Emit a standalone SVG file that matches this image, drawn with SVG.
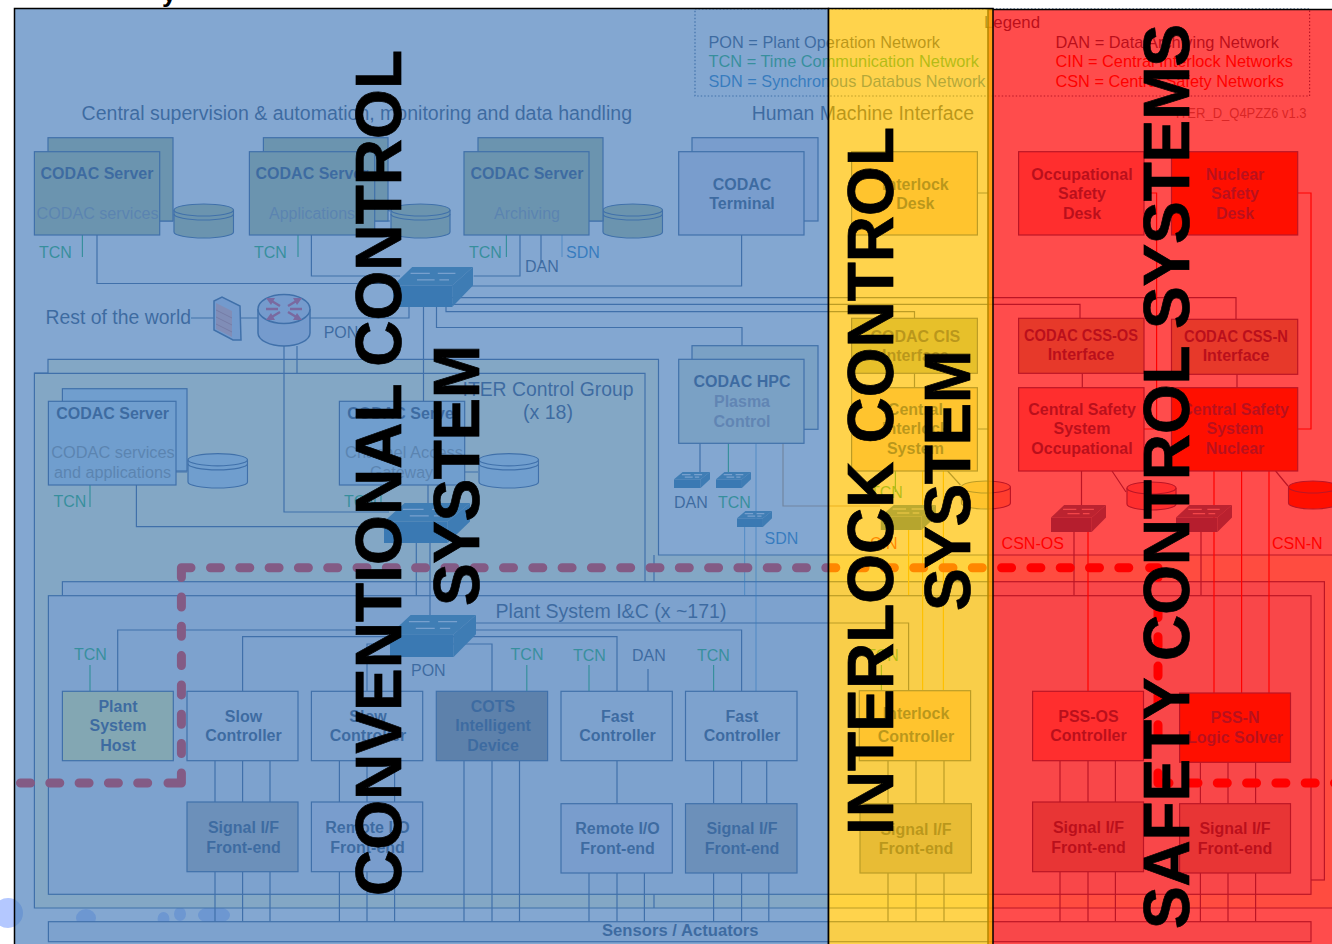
<svg xmlns="http://www.w3.org/2000/svg" width="1332" height="944" viewBox="0 0 1332 944">
<style>
text{font-family:"Liberation Sans",Arial,sans-serif;fill:#17375E}
.m{text-anchor:middle}
.b{font-weight:bold;font-size:16px}
.r{font-size:20px}
.n{font-size:16px}
.f{fill:#7A8A92}
.fb{font-weight:bold;font-size:16px;fill:#8C8C9A;text-anchor:middle}
.tcn{fill:#00B050;font-size:16px}
.sdn{fill:#0070C0;font-size:16px}
.red{fill:#FF0000;font-size:16px}
.box{stroke:#1F497D;stroke-width:1.2}
.g{fill:#AFC08C}
.s{fill:#BEE1F5}
.t{fill:#DDDDF0}
.w{fill:#EBEEF5}
.pk{fill:#FF9999}
.nu{fill:#FF3300}
.or{fill:#FFCC99}
.gr{fill:#B2B2B2}
.rio{fill:#DDDDF0}
.c path{fill:none;stroke:#1F497D;stroke-width:1.2}
.c .lt{stroke:#00B050}
.c .ls{stroke:#0070C0;stroke-opacity:.55}
.c .lr{stroke:#FF0000}
.c .lo{stroke:#C09060}
.c .ly{stroke:#FFC000}
.title{font-weight:bold;font-size:64px;fill:#000;stroke:#000;stroke-width:.7}
.bd path{fill:none;stroke:#FF0000;stroke-width:9;stroke-linecap:round;stroke-linejoin:round}
.bd .d{stroke-dasharray:10 19.3}
</style>
<defs>
<symbol id="sw" viewBox="0 0 100 50" preserveAspectRatio="none">
<polygon points="0,23 74,23 74,50 0,50" fill="#0A6499"/>
<polygon points="0,23 24,0 100,0 74,23" fill="#2175A0"/>
<polygon points="74,23 100,0 100,23 74,50" fill="#1A6E9E"/>
<path d="M30,16H52M22,8H46M56,8H78M58,16H70" stroke="#D8E8F4" stroke-width="1.2" fill="none" vector-effect="non-scaling-stroke"/>
</symbol>
<symbol id="cy" viewBox="0 0 62 36" preserveAspectRatio="none">
<path d="M1,7V29A30,6 0 0 0 61,29V7" stroke="#1F497D" stroke-width="1.2" vector-effect="non-scaling-stroke"/>
<ellipse cx="31" cy="7" rx="30" ry="6" stroke="#1F497D" stroke-width="1.2" vector-effect="non-scaling-stroke"/>
<path d="M1,11A30,6 0 0 0 61,11" fill="none" stroke="#1F497D" stroke-width="1.2" vector-effect="non-scaling-stroke"/>
</symbol>
<symbol id="cz" viewBox="0 0 52 30" preserveAspectRatio="none">
<path d="M1,7V23A25,6 0 0 0 51,23V7" stroke="#1F497D" stroke-width="1.2" vector-effect="non-scaling-stroke"/>
<ellipse cx="26" cy="7" rx="25" ry="6" stroke="#1F497D" stroke-width="1.2" vector-effect="non-scaling-stroke"/>
</symbol>
</defs>
<rect width="1332" height="944" fill="#FFFFFF"/>
<text x="162" y="2" style="font-weight:bold;font-size:26px;fill:#000">y</text>
<g id="backdrop">
<ellipse cx="8" cy="913" rx="15" ry="15" fill="#B4C8FF"/>
<ellipse cx="86" cy="918" rx="10" ry="9" fill="#B4C8FF"/>
<ellipse cx="163.500" cy="919" rx="6" ry="7" fill="#B4C8FF"/>
<ellipse cx="180" cy="914" rx="6" ry="7" fill="#B4C8FF"/>
<ellipse cx="214" cy="915" rx="16" ry="9" fill="#B4C8FF"/>
</g>
<g id="iter-control-group">
<path d="M48,373V359.300H658.500V555H1345V908H34.400V373Z" fill="#FFFFD8" stroke="#1F497D" stroke-width="1.200"/>
<path d="M34.400,373.300H645V582M654,555V908" fill="none" stroke="#1F497D" stroke-width="1.200"/>
<text class="r m" x="548" y="396" textLength="171" lengthAdjust="spacingAndGlyphs">ITER Control Group</text>
<text class="r m" x="548" y="419" textLength="50" lengthAdjust="spacingAndGlyphs">(x 18)</text>
</g>
<g id="plant-system-panel">
<rect class="box w" x="62.400" y="581.700" width="1262" height="298.300"/>
<rect class="box w" x="48.400" y="595.700" width="1262.600" height="298.600"/>
<text class="r m" x="611" y="618" textLength="231" lengthAdjust="spacingAndGlyphs">Plant System I&amp;C (x ~171)</text>
</g>
<g id="legend">
<rect x="695" y="9" width="614.600" height="87" fill="none" stroke="#1F497D" stroke-width="1.200" stroke-dasharray="1.500 2"/>
<text x="984" y="28" class="n" textLength="56" lengthAdjust="spacingAndGlyphs">Legend</text>
<text x="708.500" y="48" class="n" style="font-size:17px" textLength="231.500" lengthAdjust="spacingAndGlyphs">PON = Plant Operation Network</text>
<text x="708.500" y="67" class="tcn" style="font-size:17px" textLength="270.500" lengthAdjust="spacingAndGlyphs">TCN = Time Communication Network</text>
<text x="708.500" y="87" class="sdn" style="font-size:17px" textLength="277" lengthAdjust="spacingAndGlyphs">SDN = Synchronous Databus Network</text>
<text x="1055.500" y="48" class="n" style="font-size:17px" textLength="223.500" lengthAdjust="spacingAndGlyphs">DAN = Data Archiving Network</text>
<text x="1055.500" y="67" class="red" style="font-size:17px" textLength="237.500" lengthAdjust="spacingAndGlyphs">CIN = Central Interlock Networks</text>
<text x="1055.500" y="87" class="red" style="font-size:17px" textLength="228.500" lengthAdjust="spacingAndGlyphs">CSN = Central Safety Networks</text>
</g>
<g id="headings">
<text x="81.600" y="120" class="r" textLength="550.400" lengthAdjust="spacingAndGlyphs">Central supervision &amp; automation, monitoring and data handling</text>
<text x="751.800" y="120" class="r" textLength="222.200" lengthAdjust="spacingAndGlyphs">Human Machine Interface</text>
<text x="1175.800" y="118" style="font-size:14px;fill:#808080" textLength="130.800" lengthAdjust="spacingAndGlyphs">ITER_D_Q4PZZ6 v1.3</text>
<text x="45.500" y="324" class="r" textLength="145.500" lengthAdjust="spacingAndGlyphs">Rest of the world</text>
<text x="323.700" y="338" class="n">PON</text>
<text x="411" y="676" class="n">PON</text>
</g>
<g id="connectors" class="c">
<path d="M97,235V283.500H403M311.400,235V276H400M520,235V276H473.600M741.600,235V286H452M452,297.700H1236V319M452,304.300H1080V318M446,307V311.700H914.500V318M436.500,307V327.500H742V359.300"/>
<path d="M191,318H213.700M241,318H258M310,318H409V307M284,346V512H389M297,346V373.300M423.500,307V401M428,485V503M136.400,485V526.700H389M416.300,543V596M430,543V615"/>
<path d="M159.700,207L173,211M159.700,221H173M374.700,207L390,211M374.700,221H390M589,207L602,211M589,221H602M176,458L187,462M176,472H187M464.700,458L478,462M464.700,472H478"/>
<path d="M541,235V263M117.700,691V630H390M242.600,691V636.700H617V691M367,691V644H492V691M455,630H741.600V691M476,623H908.600V691M648,669V691M700,443.300V472"/>
<path d="M215,760.700V802M242.600,760.700V802M270,760.700V802M215,871.700V921.700M242.600,871.700V921.700M270,871.700V921.700"/>
<path d="M339.400,760.700V802M367,760.700V802M394.600,760.700V802M339.400,871.700V921.700M367,871.700V921.700M394.600,871.700V921.700"/>
<path d="M464,760.700V921.700M492,760.700V921.700M519.500,760.700V921.700"/>
<path d="M617,760.700V803.700M589,873V921.700M617,873V921.700M644.400,873V921.700"/>
<path d="M713.600,760.700V803.700M741.600,760.700V803.700M766.700,760.700V803.700M713.600,873V921.700M741.600,873V921.700M768.800,873V921.700"/>
<path d="M888,760.700V803.700M916,760.700V803.700M944,760.700V803.700M888,873V921.700M916,873V921.700M944,873V921.700"/>
<path d="M1060,760.700V802M1088,760.700V802M1115.400,760.700V802M1060,871.700V921.700M1088,871.700V921.700M1115.400,871.700V921.700"/>
<path d="M1200.400,762.300V803.700M1228,762.300V803.700M1255.600,762.300V803.700M1200.400,873V921.700M1228,873V921.700M1255.600,873V921.700"/>
<path d="M1081.500,471V505M1112,471L1126,492M1074,532V595M1201,532V595M1275.600,471L1288,486M947.600,471L960.400,485M914.500,373.300V387.700M1082.300,373.300V387.700M1237,373.300V387.700"/>
<path d="M977.400,193H988M977.400,429H988"/>
<path class="lr" d="M1144,193H1156.600V429H1144M1297.700,193H1311V429H1297.700M1088,532V691M1214,471V693M1241.600,471V693M1269,471V693"/>
<path class="ly" d="M922.600,471V690M943.400,471V690M908.600,530V595"/>
<path class="lo" d="M783,443.300V506H880"/>
<path class="lt" d="M82.400,235V257M298,235V257M506.400,235V257M90,485V507M381,485V507M90,665V691M526.800,665V691M589,665V691M713.600,665V691M881.400,665V691M895.400,471V492M728.400,443.300V472"/>
<path class="ls" d="M562,235V257M756,443.300V691M744.600,527V595"/>
</g>
<g id="db-top"><use href="#cy" x="173" y="203" width="61.500" height="36" class="g"/><use href="#cy" x="390" y="203" width="61" height="36" class="g"/><use href="#cy" x="602" y="203" width="61.500" height="36" class="g"/></g>
<g id="db-group"><use href="#cy" x="187" y="452.700" width="61.500" height="36.300" class="s"/><use href="#cy" x="478" y="452.700" width="61.500" height="36.300" class="s"/></g>
<g id="db-safety"><use href="#cz" x="960.400" y="480" width="51" height="30" class="or"/><use href="#cz" x="1126" y="481" width="51" height="30" class="pk"/><use href="#cz" x="1287.500" y="480" width="51" height="30" class="nu"/></g>
<g id="server-services"><rect class="box g" x="48" y="137.700" width="125" height="83.300"/><rect class="box g" x="34.400" y="151.700" width="125.300" height="83.300"/><text class="b m" x="97" y="179">CODAC Server</text><text class="n f m" x="97.500" y="219" textLength="122" lengthAdjust="spacingAndGlyphs">CODAC services</text><text class="tcn" x="39" y="258">TCN</text></g>
<g id="server-apps"><rect class="box g" x="263.400" y="137.700" width="124.600" height="83.300"/><rect class="box g" x="249.400" y="151.700" width="125.300" height="83.300"/><text class="b m" x="312" y="179">CODAC Server</text><text class="n f m" x="312" y="219" textLength="86" lengthAdjust="spacingAndGlyphs">Applications</text><text class="tcn" x="254" y="258">TCN</text></g>
<g id="server-arch"><rect class="box g" x="478" y="137.700" width="125" height="83.300"/><rect class="box g" x="464" y="151.700" width="125" height="83.300"/><text class="b m" x="527" y="179">CODAC Server</text><text class="n f m" x="527" y="219" textLength="66" lengthAdjust="spacingAndGlyphs">Archiving</text><text class="tcn" x="469" y="258">TCN</text><text class="n" x="525" y="272">DAN</text><text class="sdn" x="566" y="258">SDN</text></g>
<g id="terminal"><rect class="box t" x="692" y="137.700" width="126" height="83.300"/><rect class="box t" x="678.700" y="151.700" width="125.300" height="83.300"/><text class="b m" x="742" y="189.500">CODAC</text><text class="b m" x="742" y="208.600">Terminal</text></g>
<g id="interlock-desk"><rect class="box or" x="851.600" y="151.700" width="125.800" height="83.300"/><text class="b m" x="915.400" y="189.500">Interlock</text><text class="b m" x="915.400" y="208.600">Desk</text></g>
<g id="occ-desk"><rect class="box pk" x="1018.600" y="151.700" width="125.400" height="83.300"/><text class="b m" x="1082" y="179.500">Occupational</text><text class="b m" x="1082" y="198.700">Safety</text><text class="b m" x="1082" y="218.700">Desk</text></g>
<g id="nuc-desk"><rect class="box nu" x="1171.500" y="151.700" width="126.200" height="83.300"/><text class="b m" x="1235" y="179.500">Nuclear</text><text class="b m" x="1235" y="198.700">Safety</text><text class="b m" x="1235" y="218.700">Desk</text></g>
<g id="cis-if"><rect class="box g" x="851.600" y="318.300" width="125.800" height="55"/><text class="b m" x="915.400" y="341.500">CODAC CIS</text><text class="b m" x="915.400" y="360.500">Interface</text></g>
<g id="css-os-if"><rect class="box g" x="1018.600" y="318.300" width="125.400" height="55"/><text class="b m" x="1081" y="341" textLength="114" lengthAdjust="spacingAndGlyphs">CODAC CSS-OS</text><text class="b m" x="1081" y="360">Interface</text></g>
<g id="css-n-if"><rect class="box g" x="1171.500" y="319.300" width="126.200" height="55"/><text class="b m" x="1236" y="342" textLength="104" lengthAdjust="spacingAndGlyphs">CODAC CSS-N</text><text class="b m" x="1236" y="361">Interface</text></g>
<g id="central-interlock"><rect class="box or" x="851.600" y="387.700" width="125.800" height="83.300"/><text class="b m" x="915.400" y="415">Central</text><text class="b m" x="915.400" y="434">Interlock</text><text class="b m" x="915.400" y="454">System</text></g>
<g id="central-os"><rect class="box pk" x="1018.600" y="387.700" width="125.400" height="83.300"/><text class="b m" x="1082" y="415">Central Safety</text><text class="b m" x="1082" y="434">System</text><text class="b m" x="1082" y="454">Occupational</text></g>
<g id="central-n"><rect class="box nu" x="1171.500" y="387.700" width="126.200" height="83.300"/><text class="b m" x="1235" y="415">Central Safety</text><text class="b m" x="1235" y="434">System</text><text class="b m" x="1235" y="454">Nuclear</text></g>
<g id="hpc"><rect class="box" x="692" y="345.700" width="126" height="83.600" fill="#DFE9D8"/><rect class="box" x="678.700" y="359.300" width="125.300" height="84" fill="#DFE9D8"/><text class="b m" x="742" y="387">CODAC HPC</text><text class="fb" x="742" y="407">Plasma</text><text class="fb" x="742" y="426.500">Control</text></g>
<g id="group-server-a"><rect class="box s" x="62.400" y="388.700" width="124.600" height="82.300"/><rect class="box s" x="48.400" y="401.300" width="127.600" height="83.700"/><text class="b m" x="112.600" y="419">CODAC Server</text><text class="n f m" x="113" y="458" textLength="123.600" lengthAdjust="spacingAndGlyphs">CODAC services</text><text class="n f m" x="112.500" y="477.500" textLength="117" lengthAdjust="spacingAndGlyphs">and applications</text><text class="tcn" x="53.500" y="507">TCN</text></g>
<g id="group-server-b"><rect class="box s" x="339.400" y="401.300" width="125.300" height="83.700"/><text class="b m" x="403.600" y="419">CODAC Server</text><text class="n f m" x="404" y="458" textLength="118" lengthAdjust="spacingAndGlyphs">Channel Access</text><text class="n f m" x="401.500" y="477.500" textLength="63" lengthAdjust="spacingAndGlyphs">Gateway</text><text class="tcn" x="344" y="507">TCN</text></g>
<g id="switches">
<use href="#sw" x="393" y="267" width="80" height="40"/>
<use href="#sw" x="384" y="503" width="86" height="40"/>
<use href="#sw" x="390" y="615" width="86" height="42"/>
<use href="#sw" x="674" y="472" width="36" height="16"/>
<use href="#sw" x="716" y="472" width="35" height="16"/>
<use href="#sw" x="737" y="511" width="35" height="16"/>
<use href="#sw" x="1051" y="505" width="55" height="27"/>
<use href="#sw" x="1176" y="505" width="56" height="27"/>
<use href="#sw" x="880.500" y="505" width="55.500" height="25"/>
</g>
<g id="network-labels">
<text class="n" x="674" y="507.500">DAN</text><text class="tcn" x="718" y="507.500">TCN</text><text class="sdn" x="764.500" y="544">SDN</text>
<text class="tcn" x="870" y="498">TCN</text><text class="red" x="870" y="549">CIN</text>
<text class="red" x="1001.600" y="549">CSN-OS</text><text class="red" x="1272" y="549">CSN-N</text>
</g>
<g id="firewall">
<polygon points="214,301 222,297 240,306 241,340 233,340 214,330" fill="#C8D4F0" stroke="#1F497D" stroke-width="1.500"/>
<polygon points="216,303 232,311 232,337 216,329" fill="#F4A8A8"/>
<path d="M216,310L232,318M216,317L232,325M216,324L232,332" stroke="#D07070" stroke-width="1" fill="none"/>
</g>
<g id="router">
<path d="M258,309V333A26,13 0 0 0 310,333V309" fill="#D0D8F0" stroke="#1F497D" stroke-width="1.500"/>
<ellipse cx="284" cy="309" rx="26" ry="14.500" fill="#D0D8F0" stroke="#1F497D" stroke-width="1.500"/>
<path d="M270,300L280,306M288,312L298,318M298,300L288,306M280,312L270,318M266,309H278M290,309H302" stroke="#E0305A" stroke-width="2.500" fill="none"/>
<path d="M266,298L275,298L271,305ZM302,298L293,298L297,305ZM266,320L275,320L271,313ZM302,320L293,320L297,313Z" fill="#E0305A"/>
</g>
<g id="host"><rect class="box" x="62.400" y="691.300" width="110.900" height="69.400" fill="#FFFF99"/><text class="b m" x="118" y="712">Plant</text><text class="b m" x="118" y="731">System</text><text class="b m" x="118" y="751">Host</text><text class="tcn" x="74" y="660">TCN</text></g>
<g id="slow-1"><rect class="box w" x="187" y="691.300" width="111" height="69.400"/><text class="b m" x="243.500" y="722">Slow</text><text class="b m" x="243.500" y="741">Controller</text></g>
<g id="slow-2"><rect class="box w" x="311.400" y="691.300" width="111.300" height="69.400"/><text class="b m" x="368" y="722">Slow</text><text class="b m" x="368" y="741">Controller</text></g>
<g id="cots"><rect class="box" x="436.300" y="691.300" width="111.300" height="69.400" fill="#808080"/><text class="b m" x="493" y="712">COTS</text><text class="b m" x="493" y="731">Intelligent</text><text class="b m" x="493" y="751">Device</text><text class="tcn" x="510.600" y="660">TCN</text></g>
<g id="fast-1"><rect class="box w" x="561" y="691.300" width="111.300" height="69.400"/><text class="b m" x="617.500" y="722">Fast</text><text class="b m" x="617.500" y="741">Controller</text><text class="tcn" x="573" y="661">TCN</text><text class="n" x="632" y="661">DAN</text></g>
<g id="fast-2"><rect class="box w" x="685.500" y="691.300" width="111.500" height="69.400"/><text class="b m" x="742" y="722">Fast</text><text class="b m" x="742" y="741">Controller</text><text class="tcn" x="697" y="661">TCN</text></g>
<g id="interlock-ctrl"><rect class="box or" x="859.300" y="690.700" width="111.300" height="70"/><text class="b m" x="916" y="719">Interlock</text><text class="b m" x="916" y="742">Controller</text><text class="tcn" x="866" y="661">TCN</text></g>
<g id="pss-os"><rect class="box pk" x="1032.600" y="691.300" width="110.900" height="69.400"/><text class="b m" x="1088.500" y="722">PSS-OS</text><text class="b m" x="1088.500" y="741">Controller</text></g>
<g id="pss-n"><rect class="box nu" x="1179.600" y="693" width="110.900" height="69.300"/><text class="b m" x="1235" y="723">PSS-N</text><text class="b m" x="1235" y="743">Logic Solver</text></g>
<g id="fe-1"><rect class="box gr" x="187" y="802" width="111" height="69.700"/><text class="b m" x="243.500" y="833">Signal I/F</text><text class="b m" x="243.500" y="853">Front-end</text></g>
<g id="fe-2"><rect class="box rio" x="311.400" y="802" width="111.300" height="69.700"/><text class="b m" x="367.500" y="833">Remote I/O</text><text class="b m" x="367.500" y="853">Front-end</text></g>
<g id="fe-3"><rect class="box rio" x="561" y="803.700" width="111.300" height="69.300"/><text class="b m" x="617.500" y="834">Remote I/O</text><text class="b m" x="617.500" y="854">Front-end</text></g>
<g id="fe-4"><rect class="box gr" x="685.500" y="803.700" width="111.500" height="69.300"/><text class="b m" x="742" y="834">Signal I/F</text><text class="b m" x="742" y="854">Front-end</text></g>
<g id="fe-5"><rect class="box gr" x="860" y="803.700" width="111.400" height="69.300"/><text class="b m" x="916" y="835">Signal I/F</text><text class="b m" x="916" y="854">Front-end</text></g>
<g id="fe-6"><rect class="box gr" x="1032.600" y="802" width="110.900" height="69.700"/><text class="b m" x="1088.500" y="833">Signal I/F</text><text class="b m" x="1088.500" y="853">Front-end</text></g>
<g id="fe-7"><rect class="box gr" x="1179.600" y="803.700" width="110.900" height="69.300"/><text class="b m" x="1235" y="834">Signal I/F</text><text class="b m" x="1235" y="854">Front-end</text></g>
<g id="sensors"><rect class="box w" x="48.400" y="921.700" width="1262.600" height="20"/><text x="680.300" y="936" class="m" style="font-weight:bold;font-size:16px" textLength="156.600" lengthAdjust="spacingAndGlyphs">Sensors / Actuators</text></g>
<g id="boundary" class="bd">
<path class="d" d="M20.500,783H160"/>
<path d="M168,783H181.400V773"/>
<path class="d" d="M181.400,753.500V595"/>
<path d="M181.400,577.500V567.700H191"/>
<path class="d" d="M210.500,567.700H1140"/>
<path d="M1149.600,567.700H1158V577.500"/>
<path class="d" d="M1158,607.500V750M1158,607.500" style="stroke-dashoffset:0"/>
<path d="M1158,773V783H1169"/>
<path class="d" d="M1188,783H1340"/>
</g>
<g id="zones">
<rect x="14.500" y="8.500" width="814" height="950" fill="#4F81BD" fill-opacity=".7" stroke="#000" stroke-width="1.500"/>
<rect x="988" y="9.500" width="360" height="950" fill="#FF0000" fill-opacity=".7" stroke="#000" stroke-width="1.500"/>
<rect x="828.500" y="8.500" width="164.500" height="950" fill="#FFC000" fill-opacity=".7" stroke="#000" stroke-width="1.500"/>
</g>
<g id="zone-titles">
<text class="title" transform="translate(401.400,896) rotate(-90)" textLength="846" lengthAdjust="spacing">CONVENTIONAL CONTROL</text>
<text class="title" transform="translate(479,606) rotate(-90)" textLength="261" lengthAdjust="spacing">SYSTEM</text>
<text class="title" transform="translate(893.300,835) rotate(-90)" textLength="708" lengthAdjust="spacing">INTERLOCK CONTROL</text>
<text class="title" transform="translate(970,611) rotate(-90)" textLength="261" lengthAdjust="spacing">SYSTEM</text>
<text class="title" transform="translate(1188.500,929) rotate(-90)" textLength="905" lengthAdjust="spacing">SAFETY CONTROL SYSTEMS</text>
</g>
</svg>
